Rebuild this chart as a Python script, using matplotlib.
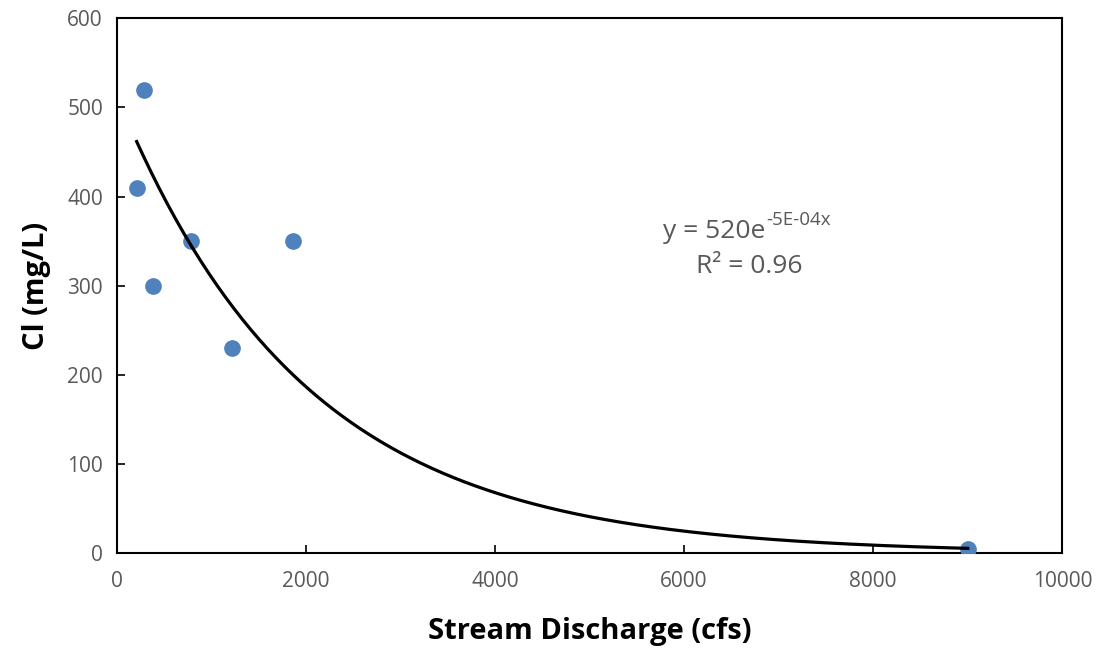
import matplotlib.pyplot as plt
import numpy as np

# ── Data ─────────────────────────────────────────────────────────
discharge = [210, 290, 380, 780, 1220, 1860, 9000]   # cfs
chloride = [410, 520, 300, 350, 230, 350, 5]          # mg/L

x_ticks = [0, 2000, 4000, 6000, 8000, 10000]
y_ticks = [0, 100, 200, 300, 400, 500, 600]

# ── Exponential trendline (fit on log y, like Excel) ──────────────
b, ln_a = np.polyfit(discharge, np.log(chloride), 1)
a = np.exp(ln_a)
xs = np.linspace(min(discharge), max(discharge), 300)
ys = a * np.exp(b * xs)

# ── Style ────────────────────────────────────────────────────────
plt.rcParams['font.family'] = ['Open Sans', 'DejaVu Sans']
grey = '#595959'
blue = '#4F81BD'

fig = plt.figure(figsize=(11.02, 6.5), dpi=100)
ax = fig.add_axes([0.106, 0.149, 0.858, 0.823])

ax.plot(discharge, chloride, 'o', color=blue, markersize=11, zorder=3)
ax.plot(xs, ys, color='black', linewidth=2.3, zorder=4)

ax.set_xlim(0, 10000)
ax.set_ylim(0, 600)
ax.set_xticks(x_ticks)
ax.set_yticks(y_ticks)
ax.tick_params(axis='both', direction='in', length=6, width=1.2,
               labelsize=15, labelcolor=grey, pad=10)
ax.tick_params(axis='x', pad=13)
for s in ax.spines.values():
    s.set_linewidth(1.5)
    s.set_color('black')

ax.set_xlabel('Stream Discharge (cfs)', fontsize=21, fontweight='bold',
              labelpad=18)
ax.set_ylabel('Cl (mg/L)', fontsize=21, fontweight='bold', labelpad=12)

# trendline equation: base text plus a smaller raised exponent
ax.text(0.686, 0.602, 'y = 520e', transform=ax.transAxes,
        ha='right', va='center', fontsize=19, color=grey)
ax.annotate('-5E-04x', xy=(0.686, 0.602), xycoords='axes fraction',
            xytext=(0.5, 8), textcoords='offset points',
            ha='left', va='center', fontsize=13.5, color=grey)
ax.text(0.669, 0.535, 'R² = 0.96', transform=ax.transAxes,
        ha='center', va='center', fontsize=19, color=grey)

fig.savefig('out.png', dpi=100)
